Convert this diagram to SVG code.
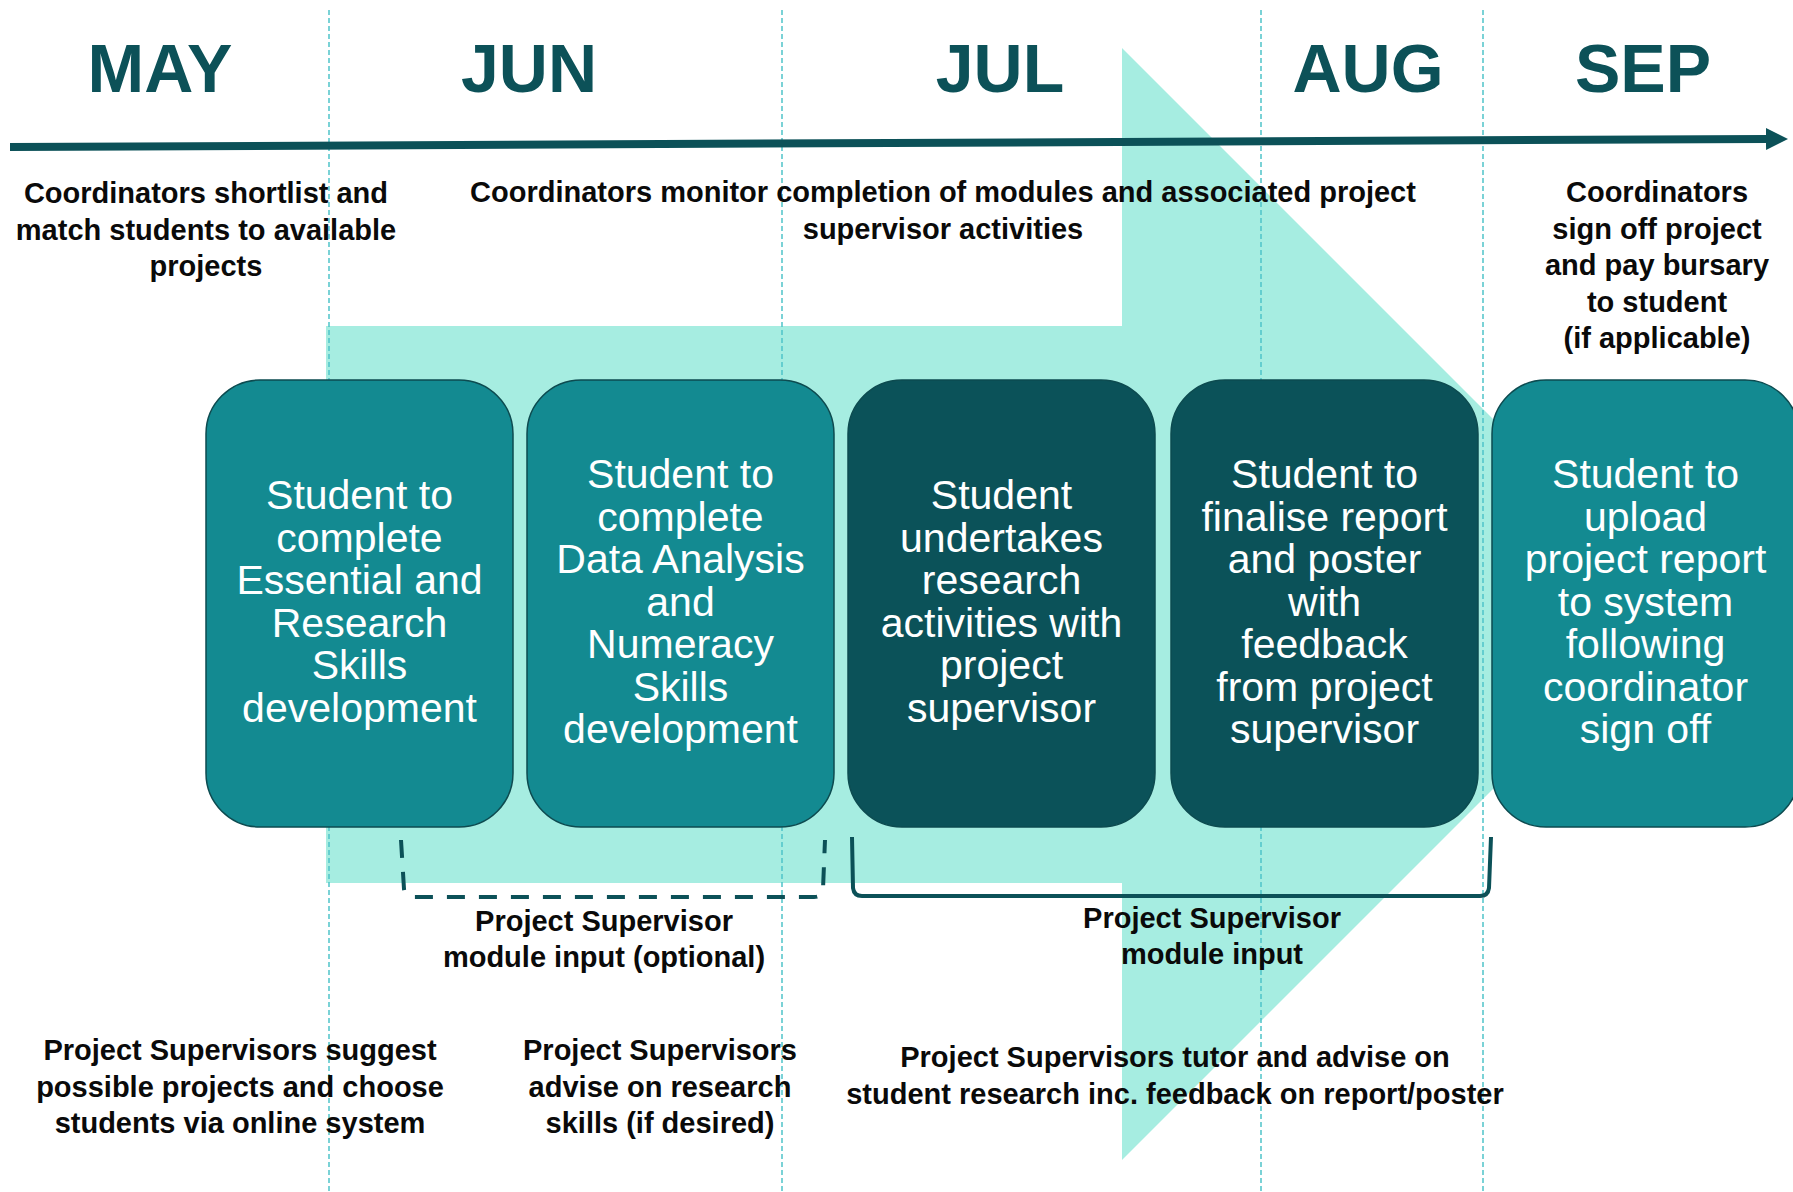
<svg xmlns="http://www.w3.org/2000/svg" width="1793" height="1192" viewBox="0 0 1793 1192">
<defs>
<style>
.month{font-family:"Liberation Sans",Arial,sans-serif;font-weight:bold;font-size:68px;fill:#0c5158;text-anchor:middle}
.lbl{font-family:"Liberation Sans",Arial,sans-serif;font-weight:bold;font-size:29px;fill:#0a0a0a;text-anchor:middle}
.bt{font-family:"Liberation Sans",Arial,sans-serif;font-size:41px;fill:#ffffff;text-anchor:middle}
.box{stroke:#0d4b50;stroke-width:1.5}
.teal{fill:#138a91}
.dark{fill:#0b5259}
.grid{stroke:#4fc3c9;stroke-width:1.5;stroke-dasharray:5 3;fill:none}
.bracket{fill:none;stroke:#0c5158;stroke-width:4}
</style>
<marker id="ah" viewBox="0 0 22 22" refX="0" refY="11" markerWidth="22" markerHeight="22" markerUnits="userSpaceOnUse" orient="auto">
<path d="M0,0 L22,11 L0,22 Z" fill="#0c5158"/>
</marker>
</defs>
<rect width="1793" height="1192" fill="#ffffff"/>
<g id="background-arrow">
<polygon points="326,326 1122,326 1122,48 1678,604 1122,1160 1122,883 326,883" fill="#a6ede1"/>
</g>
<g id="month-dividers">
<line class="grid" x1="329" y1="10" x2="329" y2="1192"/>
<line class="grid" x1="782" y1="10" x2="782" y2="1192"/>
<line class="grid" x1="1261" y1="10" x2="1261" y2="1192"/>
<line class="grid" x1="1483" y1="10" x2="1483" y2="1192"/>
</g>
<g id="months">
<text class="month" x="160" y="92">MAY</text>
<text class="month" x="529" y="92">JUN</text>
<text class="month" x="1000" y="92">JUL</text>
<text class="month" x="1368" y="92">AUG</text>
<text class="month" x="1643" y="92">SEP</text>
</g>
<g id="connectors">
<line x1="10" y1="147" x2="1766" y2="139" stroke="#0c5158" stroke-width="8" marker-end="url(#ah)"/>
<path class="bracket" d="M401,840 L404,889 Q405,897 414,897 L814,897 Q822,897 823,889 L825,840" stroke-dasharray="18 14" stroke-width="4.5"/>
<path class="bracket" d="M852,837 L853,888 Q854,896 862,896 L1480,896 Q1488,896 1489,888 L1491,837" stroke-width="3.5"/>
</g>
<g id="coordinator-notes">
<text class="lbl"><tspan x="206" y="203">Coordinators shortlist and</tspan><tspan x="206" y="239.5">match students to available</tspan><tspan x="206" y="276">projects</tspan></text>
<text class="lbl"><tspan x="943" y="202">Coordinators monitor completion of modules and associated project</tspan><tspan x="943" y="238.5">supervisor activities</tspan></text>
<text class="lbl"><tspan x="1657" y="202">Coordinators</tspan><tspan x="1657" y="238.5">sign off project</tspan><tspan x="1657" y="275">and pay bursary</tspan><tspan x="1657" y="311.5">to student</tspan><tspan x="1657" y="348">(if applicable)</tspan></text>
</g>
<g id="node-essential-skills">
<rect class="box teal" x="206" y="380" width="307" height="447" rx="54"/>
<text class="bt"><tspan x="359.5" y="509">Student to</tspan><tspan x="359.5" y="551.5">complete</tspan><tspan x="359.5" y="594">Essential and</tspan><tspan x="359.5" y="636.5">Research</tspan><tspan x="359.5" y="679">Skills</tspan><tspan x="359.5" y="721.5">development</tspan></text>
</g>
<g id="node-data-analysis">
<rect class="box teal" x="527" y="380" width="307" height="447" rx="54"/>
<text class="bt"><tspan x="680.5" y="488">Student to</tspan><tspan x="680.5" y="530.5">complete</tspan><tspan x="680.5" y="573">Data Analysis</tspan><tspan x="680.5" y="615.5">and</tspan><tspan x="680.5" y="658">Numeracy</tspan><tspan x="680.5" y="700.5">Skills</tspan><tspan x="680.5" y="743">development</tspan></text>
</g>
<g id="node-research-activities">
<rect class="box dark" x="848" y="380" width="307" height="447" rx="54"/>
<text class="bt"><tspan x="1001.5" y="509">Student</tspan><tspan x="1001.5" y="551.5">undertakes</tspan><tspan x="1001.5" y="594">research</tspan><tspan x="1001.5" y="636.5">activities with</tspan><tspan x="1001.5" y="679">project</tspan><tspan x="1001.5" y="721.5">supervisor</tspan></text>
</g>
<g id="node-finalise-report">
<rect class="box dark" x="1171" y="380" width="307" height="447" rx="54"/>
<text class="bt"><tspan x="1324.5" y="488">Student to</tspan><tspan x="1324.5" y="530.5">finalise report</tspan><tspan x="1324.5" y="573">and poster</tspan><tspan x="1324.5" y="615.5">with</tspan><tspan x="1324.5" y="658">feedback</tspan><tspan x="1324.5" y="700.5">from project</tspan><tspan x="1324.5" y="743">supervisor</tspan></text>
</g>
<g id="node-upload-report">
<rect class="box teal" x="1492" y="380" width="307" height="447" rx="54"/>
<text class="bt"><tspan x="1645.5" y="488">Student to</tspan><tspan x="1645.5" y="530.5">upload</tspan><tspan x="1645.5" y="573">project report</tspan><tspan x="1645.5" y="615.5">to system</tspan><tspan x="1645.5" y="658">following</tspan><tspan x="1645.5" y="700.5">coordinator</tspan><tspan x="1645.5" y="743">sign off</tspan></text>
</g>
<g id="bracket-labels">
<text class="lbl"><tspan x="604" y="931">Project Supervisor</tspan><tspan x="604" y="967">module input (optional)</tspan></text>
<text class="lbl"><tspan x="1212" y="928">Project Supervisor</tspan><tspan x="1212" y="964">module input</tspan></text>
</g>
<g id="supervisor-notes">
<text class="lbl"><tspan x="240" y="1060">Project Supervisors suggest</tspan><tspan x="240" y="1096.5">possible projects and choose</tspan><tspan x="240" y="1133">students via online system</tspan></text>
<text class="lbl"><tspan x="660" y="1060">Project Supervisors</tspan><tspan x="660" y="1096.5">advise on research</tspan><tspan x="660" y="1133">skills (if desired)</tspan></text>
<text class="lbl"><tspan x="1175" y="1067">Project Supervisors tutor and advise on</tspan><tspan x="1175" y="1103.5">student research inc. feedback on report/poster</tspan></text>
</g>
</svg>
